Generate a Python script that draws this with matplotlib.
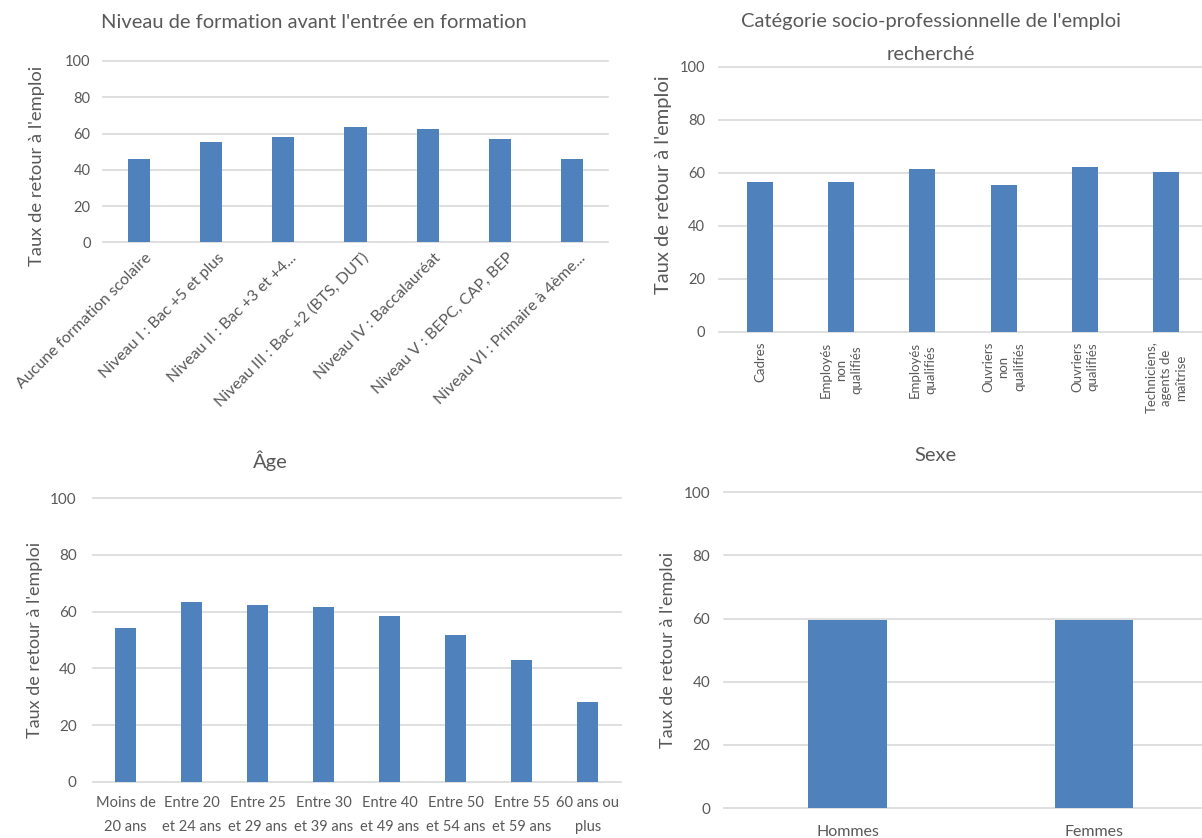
import matplotlib.pyplot as plt
import matplotlib.transforms as mtransforms
import numpy as np

plt.rcParams['font.family'] = ['Lato', 'DejaVu Sans']

niveau_labels = ['Aucune formation scolaire', 'Niveau I : Bac +5 et plus',
                 'Niveau II : Bac +3 et +4...', 'Niveau III : Bac +2 (BTS, DUT)',
                 'Niveau IV : Baccalauréat', 'Niveau V : BEPC, CAP, BEP',
                 'Niveau VI : Primaire à 4ème...']
niveau_vals = [45.8, 55.2, 58.1, 63.4, 62.3, 57.2, 45.9]

csp_labels = ['Cadres', 'Employés\nnon\nqualifiés', 'Employés\nqualifiés',
              'Ouvriers\nnon\nqualifiés', 'Ouvriers\nqualifiés',
              'Techniciens,\nagents de\nmaîtrise']
csp_vals = [56.6, 56.6, 61.5, 55.2, 62.2, 60.2]

age_labels = ['Moins de\n20 ans', 'Entre 20\net 24 ans', 'Entre 25\net 29 ans',
              'Entre 30\net 39 ans', 'Entre 40\net 49 ans', 'Entre 50\net 54 ans',
              'Entre 55\net 59 ans', '60 ans ou\nplus']
age_vals = [54.4, 63.4, 62.3, 61.6, 58.4, 51.7, 43.1, 28.0]

sexe_labels = ['Hommes', 'Femmes']
sexe_vals = [59.5, 59.5]

W, H = 1202, 838
BLUE = '#4f81bd'
GREY = '#595959'
YLAB = "Taux de retour à l'emploi"

fig = plt.figure(figsize=(W / 100, H / 100), dpi=100)


def px_axes(l, t, r, b):
    # axes placed by pixel box (left, top, right, bottom)
    return fig.add_axes([l / W, 1 - b / H, (r - l) / W, (b - t) / H])


def bar_panel(ax, labels, vals, tick_size, pad_px, width=0.31):
    x = np.arange(len(vals))
    ax.bar(x, vals, width=width, color=BLUE, zorder=3)
    ax.set_xlim(-0.5, len(vals) - 0.5)
    ax.set_ylim(0, 100)
    ax.set_yticks([0, 20, 40, 60, 80, 100])
    ax.yaxis.grid(True, color='#d9d9d9', linewidth=1.2, zorder=0)
    for gl in ax.get_ygridlines():
        gl.set_clip_on(False)
    for s in ax.spines.values():
        s.set_visible(False)
    ax.tick_params(axis='y', length=0, pad=pad_px * 0.72, labelsize=tick_size,
                   labelcolor=GREY)
    ax.tick_params(axis='x', length=0, labelcolor=GREY)
    ax.set_xticks(x)
    return x


def title_px(x, y, s, size=14.5):
    fig.text(x / W, 1 - y / H, s, ha='center', va='center', fontsize=size, color=GREY)


def ylabel_px(x, y, size):
    fig.text(x / W, 1 - y / H, YLAB, rotation=90, ha='center', va='center',
             fontsize=size, color=GREY)


# niveau de formation
ax1 = px_axes(102.7, 61, 608.3, 242.3)
bar_panel(ax1, niveau_labels, niveau_vals, 10.5, 12)
ax1.set_xticklabels(niveau_labels, rotation=45, ha='right', rotation_mode='anchor',
                    fontsize=11.5)
ax1.tick_params(axis='x', pad=6)
shift = mtransforms.ScaledTranslation(6 / 100, 0, fig.dpi_scale_trans)
for lab in ax1.get_xticklabels():
    lab.set_transform(lab.get_transform() + shift)
title_px(314, 22, 'Niveau de formation avant l\'entrée en formation')
ylabel_px(37, 166, 13.2)

# categorie socio-professionnelle
ax2 = px_axes(719.3, 66.7, 1206.6, 331.7)
bar_panel(ax2, csp_labels, csp_vals, 10.5, 14, width=0.32)
ax2.set_xticklabels(csp_labels, rotation=90, ha='center', va='top',
                    multialignment='center', fontsize=9.5, linespacing=1.35)
ax2.tick_params(axis='x', pad=7)
title_px(931, 22, 'Catégorie socio-professionnelle de l\'emploi')
title_px(931, 54, 'recherché')
ylabel_px(663, 185, 14.5)

# age
ax3 = px_axes(92.7, 498.3, 620.7, 781.7)
bar_panel(ax3, age_labels, age_vals, 11, 16, width=0.32)
ax3.set_xticklabels(age_labels, fontsize=10.5, linespacing=1.95)
ax3.tick_params(axis='x', pad=10)
title_px(270, 461, 'Âge')
ylabel_px(35, 640, 13)

# sexe
ax4 = px_axes(724.3, 492.3, 1217, 808)
bar_panel(ax4, sexe_labels, sexe_vals, 11, 14, width=0.317)
ax4.set_xticklabels(sexe_labels, fontsize=11.5)
ax4.tick_params(axis='x', pad=12)
title_px(935, 455, 'Sexe')
ylabel_px(668, 650, 13)

fig.savefig('out.png', dpi=100)
